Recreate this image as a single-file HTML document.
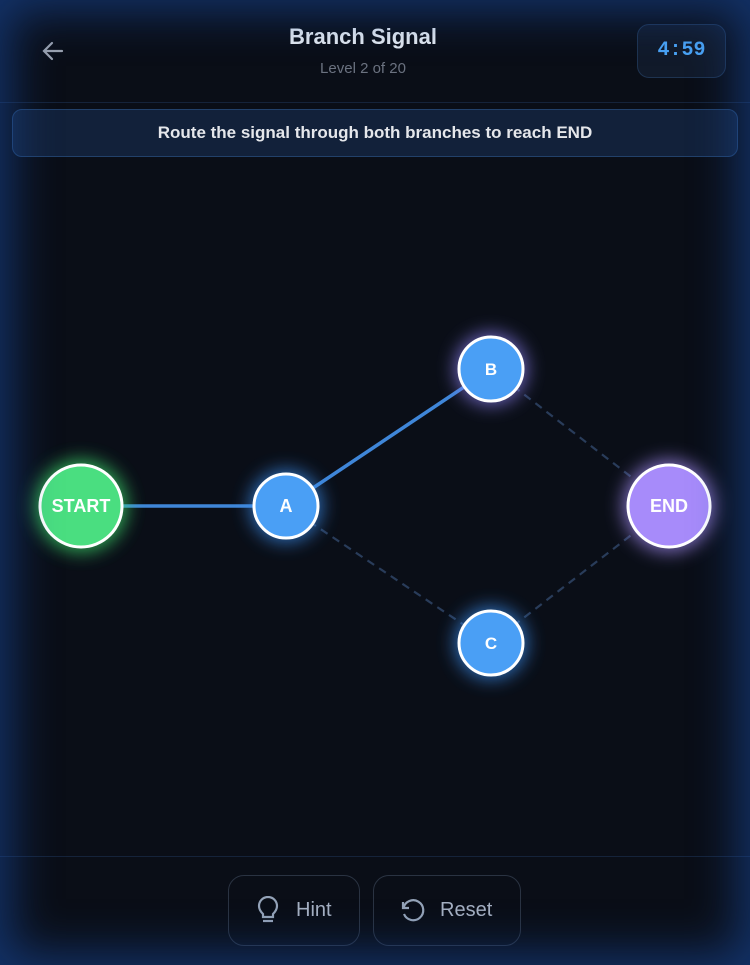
<!DOCTYPE html><html><head><style>
body{margin:0;width:750px;height:965px;background:#0a0e17;overflow:hidden;font-family:"Liberation Sans",sans-serif;position:relative}
.vig{position:absolute;inset:0;box-shadow:inset 0 0 45px 12px rgba(25,75,160,.6);pointer-events:none}
.t{position:absolute;color:#e2e8f0;font-weight:bold}
</style></head><body>
<div class="t" style="left:0;width:726px;top:24px;text-align:center;font-size:22px;color:#e2e8f0">Branch Signal</div>
<div class="t" style="left:0;width:726px;top:60px;text-align:center;font-size:15px;font-weight:normal;color:#6b7280">Level 2 of 20</div>
<svg style="position:absolute;left:40px;top:38px" width="26" height="26" viewBox="0 0 26 26"><path d="M22 13H4M12 5L4 13L12 21" stroke="#9ca3af" stroke-width="2.2" fill="none" stroke-linecap="round"/></svg>
<div style="position:absolute;left:637px;top:24px;width:87px;height:52px;border:1px solid #1e3350;border-radius:12px;background:#111a2a;color:#4aa3f5;font-family:'Liberation Mono',monospace;font-weight:bold;font-size:20px;line-height:52px;text-align:center">4:59</div>
<div style="position:absolute;left:0;right:0;top:102px;height:1px;background:#15233a"></div>
<div style="position:absolute;left:12px;top:109px;width:724px;height:46px;border:1px solid #22416a;border-radius:10px;background:#12213a;color:#e5e7eb;font-weight:bold;font-size:17px;line-height:46px;text-align:center">Route the signal through both branches to reach END</div>
<svg style="position:absolute;left:0;top:0" width="750" height="965">
<defs>
<filter id="g" x="-1" y="-1" width="3" height="3"><feGaussianBlur stdDeviation="9"/></filter>
</defs>
<line x1="286" y1="506" x2="491" y2="643" stroke="#293c5a" stroke-width="2.2" stroke-dasharray="8 6"/>
<line x1="491" y1="369" x2="669" y2="506" stroke="#293c5a" stroke-width="2.2" stroke-dasharray="8 6"/>
<line x1="491" y1="643" x2="669" y2="506" stroke="#293c5a" stroke-width="2.2" stroke-dasharray="8 6"/>
<line x1="81" y1="506" x2="286" y2="506" stroke="#3f86d8" stroke-width="3.5"/>
<line x1="286" y1="506" x2="491" y2="369" stroke="#3f86d8" stroke-width="3.5"/>
<circle cx="81" cy="506" r="46" fill="#3ddc6c" opacity=".75" filter="url(#g)"/>
<circle cx="286" cy="506" r="36" fill="#3b8ff0" opacity=".75" filter="url(#g)"/>
<circle cx="491" cy="369" r="36" fill="#8b7ff0" opacity=".75" filter="url(#g)"/>
<circle cx="491" cy="643" r="36" fill="#3b8ff0" opacity=".75" filter="url(#g)"/>
<circle cx="669" cy="506" r="46" fill="#a48cf5" opacity=".75" filter="url(#g)"/>
<circle cx="81" cy="506" r="41" fill="#4ade80" stroke="#fff" stroke-width="3"/>
<circle cx="286" cy="506" r="32" fill="#4a9ff5" stroke="#fff" stroke-width="3"/>
<circle cx="491" cy="369" r="32" fill="#4a9ff5" stroke="#fff" stroke-width="3"/>
<circle cx="491" cy="643" r="32" fill="#4a9ff5" stroke="#fff" stroke-width="3"/>
<circle cx="669" cy="506" r="41" fill="#a78bfa" stroke="#fff" stroke-width="3"/>
<g fill="#fff" font-family="Liberation Sans" font-weight="bold" font-size="18" text-anchor="middle">
<text x="81" y="512">START</text><text x="286" y="512">A</text><text x="491" y="375" font-size="17">B</text><text x="491" y="649" font-size="17">C</text><text x="669" y="512">END</text></g>
</svg>
<div style="position:absolute;left:0;right:0;top:856px;height:1px;background:#15233a"></div>
<div style="position:absolute;left:228px;top:875px;width:132px;height:71px;border:1px solid #2a3342;border-radius:16px;box-sizing:border-box"></div>
<div style="position:absolute;left:373px;top:875px;width:148px;height:71px;border:1px solid #2a3342;border-radius:16px;box-sizing:border-box"></div>
<svg style="position:absolute;left:255px;top:896px" width="26" height="30" viewBox="0 0 26 30"><path d="M8 18C5 15 4 13 4 10A9 9 0 0 1 22 10C22 13 21 15 18 18V21H8Z" fill="none" stroke="#94a3b8" stroke-width="2.2"/><path d="M8 25H18" stroke="#94a3b8" stroke-width="2.2"/></svg>
<div class="t" style="left:296px;top:899px;font-size:20px;font-weight:normal;color:#a5b0c2">Hint</div>
<svg style="position:absolute;left:398px;top:896px" width="30" height="30" viewBox="0 0 30 30"><path d="M5 6V12H11" fill="none" stroke="#94a3b8" stroke-width="2.2"/><path d="M5.5 12A10 10 0 1 1 6 18" fill="none" stroke="#94a3b8" stroke-width="2.2"/></svg>
<div class="t" style="left:440px;top:899px;font-size:20px;font-weight:normal;color:#a5b0c2">Reset</div>
<div class="vig"></div>
</body></html>
